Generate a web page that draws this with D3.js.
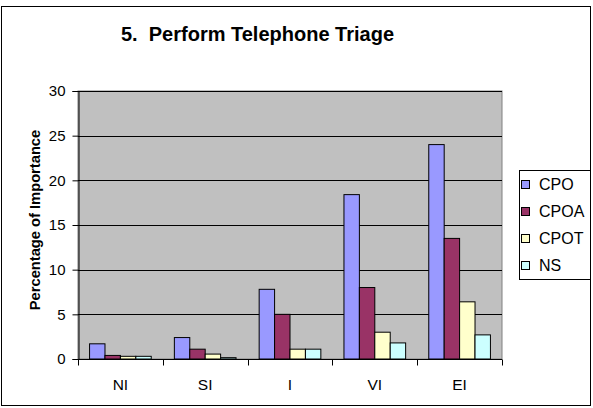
<!DOCTYPE html>
<html><head><meta charset="utf-8">
<script src="https://cdn.jsdelivr.net/npm/d3@7"></script>
<style>body{margin:0;background:#fff}svg{display:block;font-family:Arial,"Liberation Sans",sans-serif}text{white-space:pre}</style>
</head><body>
<script>
const categories = ["NI","SI","I","VI","EI"];
const seriesNames = ["CPO","CPOA","CPOT","NS"];
const CPO  = [1.7, 2.4, 7.8, 18.4, 24.0];
const CPOA = [0.4, 1.1, 5.0, 8.0, 13.5];
const CPOT = [0.3, 0.55, 1.1, 3.0, 6.4];
const NS   = [0.3, 0.15, 1.1, 1.8, 2.7];
const yTicks = [0,5,10,15,20,25,30];
const colors = ["#9999FF","#993366","#FFFFCC","#CCFFFF"];
const seriesVals = [CPO, CPOA, CPOT, NS];

(function(){
const W = 593, H = 408;
const svg = d3.select("body").append("svg").attr("width", W).attr("height", H);
svg.append("rect").attr("x",1.5).attr("y",6.5).attr("width",589).attr("height",399)
  .attr("fill","#fff").attr("stroke","#000");

const pL = 78, pR = 502, pT = 91, pB = 359;
const x0 = d3.scaleBand().domain(categories).range([pL, pR]).paddingInner(0).paddingOuter(0);
const y = d3.scaleLinear().domain([0,30]).range([pB, pT]);

// plot area
svg.append("rect").attr("x",pL).attr("y",pT).attr("width",pR-pL).attr("height",pB-pT)
  .attr("fill","#C0C0C0").attr("stroke","#808080");

// gridlines
svg.append("g").selectAll("line").data(yTicks.filter(d=>d>0)).join("line")
  .attr("x1",pL).attr("x2",pR).attr("y1",d=>Math.round(y(d))+0.5).attr("y2",d=>Math.round(y(d))+0.5)
  .attr("stroke","#000");

// bars
const bw = x0.bandwidth()/5.5;
categories.forEach((c,i)=>{
  seriesVals.forEach((vals,s)=>{
    const xb = x0(c) + 0.75*bw + s*bw;
    svg.append("rect").attr("x",xb).attr("y",y(vals[i])).attr("width",bw).attr("height",pB - y(vals[i]))
      .attr("fill",colors[s]).attr("stroke","#000").attr("stroke-width",1);
  });
});

// y axis
const yAxis = d3.axisLeft(y).tickValues(yTicks).tickSize(6).tickPadding(7);
const gy = svg.append("g").attr("transform",`translate(${pL+0.5},0)`).call(yAxis);
gy.selectAll("text").attr("font-size",15).attr("font-family","Arial").attr("fill","#000");
gy.selectAll("line,path").attr("stroke","#000");

// x axis
const xAxis = d3.axisBottom(x0).tickSize(0).tickFormat(()=>"");
const gx = svg.append("g").attr("transform",`translate(0,${pB+0.5})`).call(xAxis);
gx.select("path").attr("stroke","#000").attr("d",`M${pL},0H${pR}`);
const tickPos = categories.map(c=>x0(c)).concat([pR]);
gx.selectAll("line.t").data(tickPos).join("line").attr("class","t")
  .attr("x1",d=>Math.round(d)+0.5).attr("x2",d=>Math.round(d)+0.5).attr("y1",0).attr("y2",6).attr("stroke","#000");
gx.selectAll("text.c").data(categories).join("text").attr("class","c")
  .attr("x",d=>x0(d)+x0.bandwidth()/2).attr("y",30).attr("text-anchor","middle")
  .attr("font-size",15.5).attr("font-family","Arial").attr("fill","#000").text(d=>d);

// title
svg.append("text").attr("x",257.5).attr("y",41).attr("text-anchor","middle")
  .attr("font-size",20).attr("font-weight","bold").attr("font-family","Arial").text("5.  Perform Telephone Triage");

// y label
svg.append("text").attr("transform","translate(39.5,220) rotate(-90)").attr("text-anchor","middle")
  .attr("font-size",14.7).attr("font-weight","bold").attr("font-family","Arial").text("Percentage of Importance");

// legend
const lg = svg.append("g");
lg.append("rect").attr("x",519.5).attr("y",170.5).attr("width",71).attr("height",109).attr("fill","#fff").attr("stroke","#000");
seriesNames.forEach((n,i)=>{
  const base = 190 + i*27;
  lg.append("rect").attr("x",521.5).attr("y",base-9.5).attr("width",8).attr("height",8).attr("fill",colors[i]).attr("stroke","#000");
  lg.append("text").attr("x",539).attr("y",base).attr("font-size",16).attr("font-family","Arial").text(n);
});
})();
</script>
</body></html>
